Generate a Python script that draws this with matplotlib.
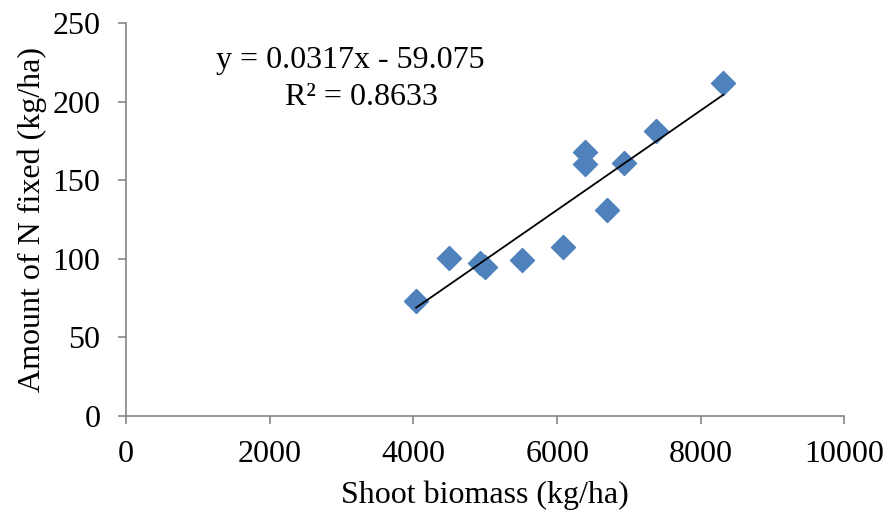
import numpy as np
import matplotlib.pyplot as plt

plt.rcParams['font.family'] = ['Liberation Serif', 'DejaVu Serif']

# Data
shoot_biomass = [4037, 4492, 4928, 5002, 5512, 6087, 6385, 6385, 6691, 6932, 7378, 8314]
n_fixed = [73.4, 100.6, 97.6, 95.0, 99.3, 107.4, 168.0, 160.4, 131.1, 161.2, 181.4, 211.8]

# Trendline as printed on the chart
slope = 0.0317
intercept = -59.075
r2 = 0.8633

x_ticks = [0, 2000, 4000, 6000, 8000, 10000]
y_ticks = [0, 50, 100, 150, 200, 250]

fig = plt.figure(figsize=(8.88, 5.16), dpi=100)
ax = fig.add_axes([0.142, 0.194, 0.809, 0.761])

ax.scatter(shoot_biomass, n_fixed, marker='D', s=150, color='#4F81BD', zorder=2)

xs = np.array([min(shoot_biomass), max(shoot_biomass)])
ax.plot(xs, slope * xs + intercept, color='black', linewidth=1.3, zorder=3)

ax.set_xlim(0, 10000)
ax.set_ylim(0, 250)
ax.set_xticks(x_ticks)
ax.set_yticks(y_ticks)

for side in ['top', 'right']:
    ax.spines[side].set_visible(False)
for side in ['left', 'bottom']:
    ax.spines[side].set_color('#868686')
    ax.spines[side].set_linewidth(1.2)
ax.tick_params(axis='both', colors='#868686', labelcolor='black', labelsize=23,
               length=5.5, width=1.2, direction='out')
ax.tick_params(axis='x', pad=12)
ax.tick_params(axis='y', pad=13)

ax.set_xlabel('Shoot biomass (kg/ha)', fontsize=23, labelpad=8)
ax.set_ylabel('Amount of N fixed (kg/ha)', fontsize=23, labelpad=4)

ax.text(0.312, 0.905, 'y = 0.0317x - 59.075', transform=ax.transAxes,
        fontsize=23, ha='center', va='center')
ax.text(0.327, 0.81, 'R² = ' + str(r2), transform=ax.transAxes,
        fontsize=23, ha='center', va='center')

fig.savefig('out.png', dpi=100)
